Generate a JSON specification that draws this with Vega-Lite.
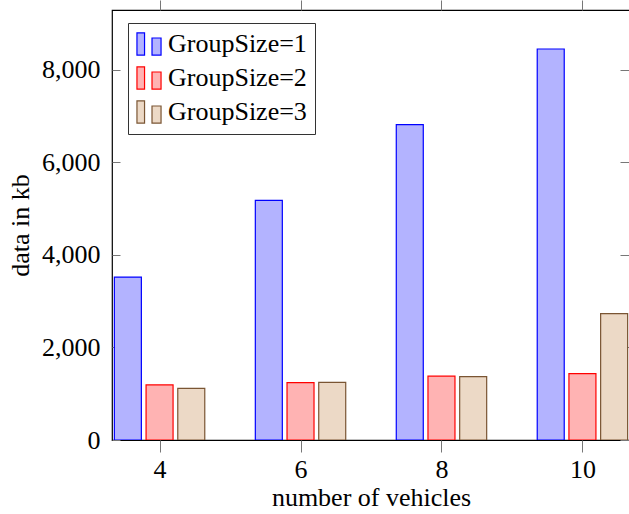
{
  "$schema": "https://vega.github.io/schema/vega-lite/v6.json",
  "width": 518,
  "height": 430,
  "autosize": {"type": "none"},
  "padding": {"left": 112, "top": 10, "right": 0, "bottom": 74},
  "config": {
    "view": {"stroke": "black", "strokeWidth": 1.2},
    "font": "Liberation Serif",
    "axis": {"labelFont": "Liberation Serif", "titleFont": "Liberation Serif", "labelColor": "black", "titleColor": "black", "titleFontWeight": "normal", "labelFontSize": 26, "titleFontSize": 26, "grid": false, "domain": false, "tickColor": "#777", "tickWidth": 1}
  },
  "data": {
    "values": [
      {"n": 4, "g": "GroupSize=1", "v": 3520},
      {"n": 4, "g": "GroupSize=2", "v": 1190},
      {"n": 4, "g": "GroupSize=3", "v": 1115},
      {"n": 6, "g": "GroupSize=1", "v": 5178},
      {"n": 6, "g": "GroupSize=2", "v": 1240},
      {"n": 6, "g": "GroupSize=3", "v": 1246},
      {"n": 8, "g": "GroupSize=1", "v": 6815},
      {"n": 8, "g": "GroupSize=2", "v": 1378},
      {"n": 8, "g": "GroupSize=3", "v": 1369},
      {"n": 10, "g": "GroupSize=1", "v": 8447},
      {"n": 10, "g": "GroupSize=2", "v": 1436},
      {"n": 10, "g": "GroupSize=3", "v": 2731}
    ]
  },
  "encoding": {
    "x": {"field": "n", "type": "quantitative", "scale": {"domain": [3.396, 10.604], "nice": false, "zero": false}, "axis": null},
    "y": {"field": "v", "type": "quantitative", "scale": {"domain": [0, 9290], "nice": false}, "axis": null},
    "fill": {"field": "g", "type": "nominal", "scale": {"domain": ["GroupSize=1", "GroupSize=2", "GroupSize=3"], "range": ["#b3b3ff", "#ffb3b3", "#ecd9c6"]}, "legend": null},
    "stroke": {"field": "g", "type": "nominal", "scale": {"domain": ["GroupSize=1", "GroupSize=2", "GroupSize=3"], "range": ["#0000ff", "#ff0000", "#7a5533"]}, "legend": null}
  },
  "layer": [
    {
      "transform": [{"filter": "datum.g === 'GroupSize=1'"}],
      "mark": {"type": "bar", "width": 27, "xOffset": -31.7, "clip": true, "strokeWidth": 1.2},
      "encoding": {
        "x": {"field": "n", "type": "quantitative", "axis": {"orient": "bottom", "values": [4, 6, 8, 10], "format": "d", "tickSize": 12, "labelPadding": 4, "title": "number of vehicles", "titlePadding": 2}},
        "y": {"field": "v", "type": "quantitative", "axis": {"orient": "left", "values": [0, 2000, 4000, 6000, 8000], "format": ",d", "tickSize": -8, "labelPadding": 20, "title": "data in kb", "titlePadding": 8}},
        "fill": {"field": "g", "type": "nominal", "legend": {"orient": "none", "legendX": 16, "legendY": 13, "title": null, "padding": 8, "strokeColor": "#333", "fillColor": "white", "labelFont": "Liberation Serif", "labelFontSize": 26, "labelColor": "black", "symbolType": "M-1,-0.92H-0.37V0.92H-1Z M0.25,-0.5H1V0.92H0.25Z", "symbolSize": 580, "symbolStrokeWidth": 1.2, "labelOffset": 6, "rowPadding": 6}},
        "stroke": {"field": "g", "type": "nominal", "legend": {"orient": "none", "legendX": 16, "legendY": 13, "title": null, "padding": 8, "strokeColor": "#333", "fillColor": "white", "labelFont": "Liberation Serif", "labelFontSize": 26, "labelColor": "black", "symbolType": "M-1,-0.92H-0.37V0.92H-1Z M0.25,-0.5H1V0.92H0.25Z", "symbolSize": 580, "symbolStrokeWidth": 1.2, "labelOffset": 6, "rowPadding": 6}}
      }
    },
    {
      "transform": [{"filter": "datum.g === 'GroupSize=2'"}],
      "mark": {"type": "bar", "width": 27, "xOffset": 0, "clip": true, "strokeWidth": 1.2},
      "encoding": {
        "x": {"field": "n", "type": "quantitative", "axis": null},
        "y": {"field": "v", "type": "quantitative", "axis": null}
      }
    },
    {
      "transform": [{"filter": "datum.g === 'GroupSize=3'"}],
      "mark": {"type": "bar", "width": 27, "xOffset": 31.7, "clip": true, "strokeWidth": 1.2},
      "encoding": {
        "x": {"field": "n", "type": "quantitative", "axis": null},
        "y": {"field": "v", "type": "quantitative", "axis": null}
      }
    },
    {
      "mark": {"type": "point", "opacity": 0},
      "encoding": {
        "x": {"field": "n", "type": "quantitative", "axis": {"orient": "top", "values": [4, 6, 8, 10], "labels": false, "tickSize": 10, "title": null}},
        "y": {"field": "v", "type": "quantitative", "axis": {"orient": "right", "values": [0, 2000, 4000, 6000, 8000], "labels": false, "tickSize": -10, "title": null}}
      }
    }
  ],
  "resolve": {"axis": {"x": "independent", "y": "independent"}}
}
